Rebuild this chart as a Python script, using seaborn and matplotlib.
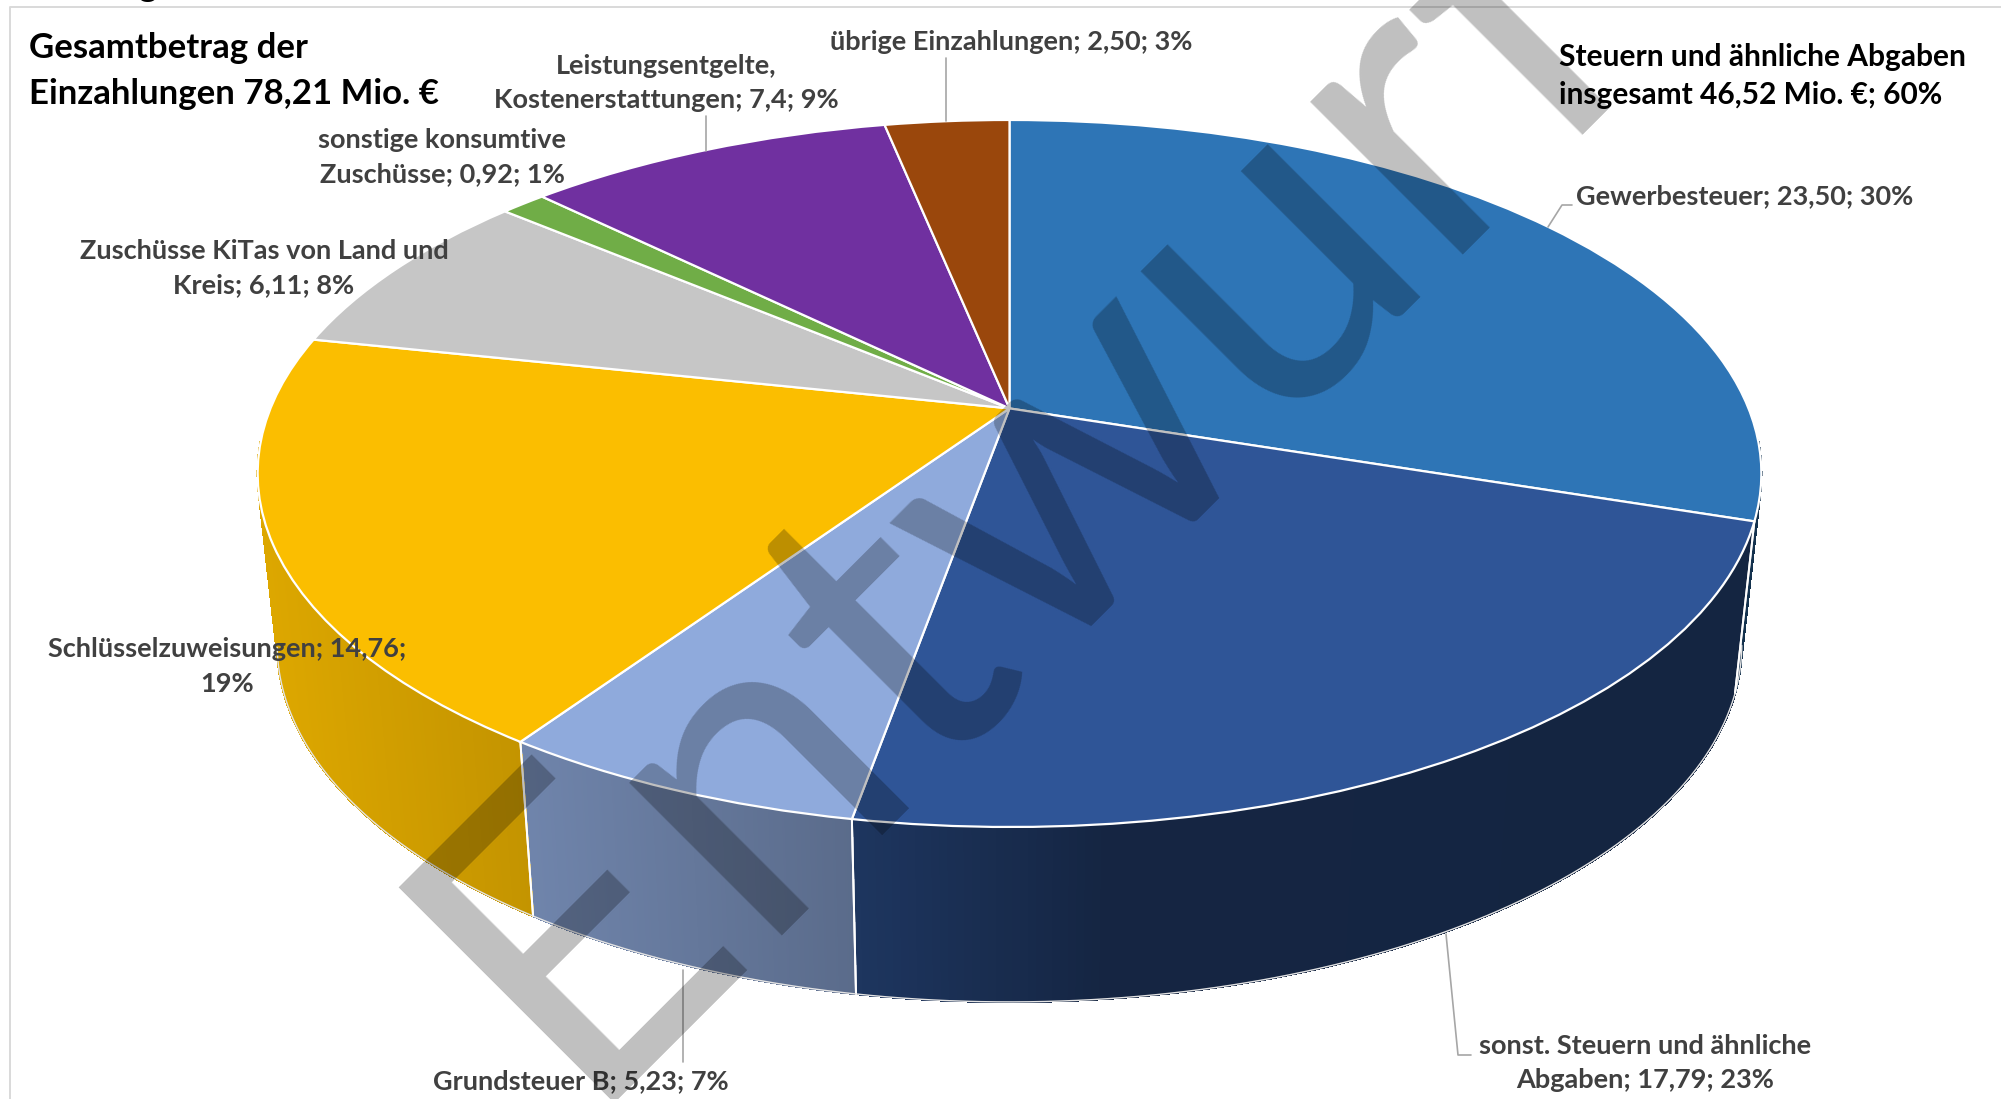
#!/usr/bin/env python
"""
Gesamtbetrag der Einzahlungen as a tilted 3D pie, with the Entwurf watermark on top
"""

# %% import modules
import numpy as np
import matplotlib
matplotlib.use('Agg')
import matplotlib.pyplot as plt
from matplotlib.collections import PolyCollection
from matplotlib.colors import to_rgb
from matplotlib.transforms import Transform
import seaborn as sns

# %% data
names = ['Gewerbesteuer', 'sonst. Steuern und ähnliche\nAbgaben', 'Grundsteuer B',
         'Schlüsselzuweisungen;', 'Zuschüsse KiTas von Land und\nKreis', 'sonstige konsumtive\nZuschüsse',
         'Leistungsentgelte,\nKostenerstattungen', 'übrige Einzahlungen']
values = [23.50, 17.79, 5.23, 14.76, 6.11, 0.92, 7.40, 2.50]
value_labels = ['23,50', '17,79', '5,23', '14,76', '6,11', '0,92', '7,4', '2,50']
percents = [30, 23, 7, 19, 8, 1, 9, 3]
colors = ['#2e75b6', '#2f5597', '#8faadc', '#fbbe00', '#c6c6c6', '#70ad47', '#7030a0', '#9a470c']

# label placement in pixels: x, y, horizontal alignment
label_pos = [(1576, 196.5, 'left'), (1645, 1063, 'center'), (581, 1081, 'center'), (227, 666.5, 'center'),
             (264, 268, 'center'), (442, 157, 'center'), (666, 83, 'center'), (1011, 42, 'center')]
# leader lines in pixels
leaders = [([1548, 1562, 1572], [227, 205, 205]),
           ([1446, 1458, 1471], [934, 1055, 1055]),
           ([683, 683], [970, 1062]),
           ([946, 946], [58, 121]),
           ([706, 706], [116, 151])]

# %% perspective of the pie: unit circle to pixels
cx, cy = 1009.5, 408.4
a, b, k = 739, 341.5, 0.184
x_shrink, y_stretch = 0.974, 1.01
top_front, bottom_front = 827, 1002


def project(x, y):
    """Unit circle coordinates to the pixel position on the top face."""
    return cx + a * x / (1 + k * y), cy - b * y / (1 + k * y)


def project_bottom(x, y):
    """Same for the bottom rim of the pie."""
    px, py = project(x, y)
    return cx + x_shrink * (px - cx), bottom_front + y_stretch * (py - top_front)


class Perspective(Transform):
    input_dims = 2
    output_dims = 2
    is_separable = False
    has_inverse = False

    def transform_non_affine(self, values):
        px, py = project(values[:, 0], values[:, 1])
        return np.column_stack([px, py])


def wall_shade(px):
    """Darkening of the outer wall from left to right."""
    return np.interp(px, [260, 530, 853, 1100, 1760], [0.88, 0.775, 0.63, 0.44, 0.43])


# %% plot
sns.set_theme(style='white')
plt.rcParams['font.family'] = ['Lato', 'DejaVu Sans']
palette = sns.color_palette(colors)

fig = plt.figure(figsize=(20.01, 10.99), dpi=100)
ax = fig.add_axes([0, 0, 1, 1])
wedges, _ = ax.pie(values, colors=palette, startangle=90, counterclock=False,
                   wedgeprops=dict(edgecolor='white', linewidth=1.6, zorder=3))
for wedge in wedges:
    wedge.set_transform(Perspective() + ax.transData)
ax.set_aspect('auto')
ax.set(xlim=(0, 2001), ylim=(1099, 0))
ax.set_axis_off()

# chart frame
ax.plot([10, 10, 2001], [1099, 7, 7], color='#d9d9d9', lw=1.4, zorder=1)

# outer wall of the pie, from the same wedge angles
for wedge, color in zip(wedges, palette):
    theta = np.radians(np.linspace(wedge.theta1, wedge.theta2, 160))
    x, y = np.cos(theta), np.sin(theta)
    tx, ty = project(x, y)
    bx, by = project_bottom(x, y)
    keep = y < -0.1
    if not keep.any():
        continue
    quads, quad_colors = [], []
    for i in range(len(theta) - 1):
        if keep[i] or keep[i + 1]:
            quads.append([(tx[i], ty[i]), (tx[i + 1], ty[i + 1]), (bx[i + 1], by[i + 1]), (bx[i], by[i])])
            quad_colors.append(tuple(np.array(to_rgb(color)) * wall_shade(tx[i])))
    ax.add_collection(PolyCollection(quads, facecolors=quad_colors, edgecolors=quad_colors,
                                     linewidths=1.0, antialiaseds=False, zorder=2))
    # slice boundaries only where they face the viewer
    for i in (0, -1):
        if keep[i]:
            ax.plot([tx[i], bx[i]], [ty[i], by[i]], color='white', lw=1.4, zorder=2.5)
    rim = y < -k
    ax.plot(bx[rim], by[rim], color='#e4e4e4', lw=1.0, zorder=2.5)

# leader lines
for lx, ly in leaders:
    ax.plot(lx, ly, color='#a6a6a6', lw=1.2, zorder=4)

# data labels
for name, val, pct, (lx, ly, ha) in zip(names, value_labels, percents, label_pos):
    if name.endswith(';'):
        text = f'{name} {val};\n{pct}%'
    else:
        text = f'{name}; {val}; {pct}%'
    ax.text(lx, ly, text, ha=ha, va='center', fontsize=19.5, fontweight='bold', color='#404040',
            linespacing=1.53, zorder=5)

# headlines
ax.text(29, 71, 'Gesamtbetrag der\nEinzahlungen 78,21 Mio. €', ha='left', va='center', fontsize=25,
        fontweight='bold', color='black', linespacing=1.53, zorder=5)
ax.text(1559, 76, 'Steuern und ähnliche Abgaben\ninsgesamt 46,52 Mio. €; 60%', ha='left', va='center',
        fontsize=21.5, fontweight='bold', color='black', linespacing=1.47, zorder=5)
# last bit of a line above the crop
ax.text(147, -4, 'g', ha='center', va='baseline', fontsize=25, fontweight='bold', color='black')

# watermark, black with low alpha darkens everything underneath like in the original
ax.text(576, 1103, 'Entwurf', rotation=45, rotation_mode='anchor', ha='left', va='baseline',
        fontsize=307, color='black', alpha=0.25, zorder=6)

plt.savefig('out.png', dpi=100)
plt.close()
